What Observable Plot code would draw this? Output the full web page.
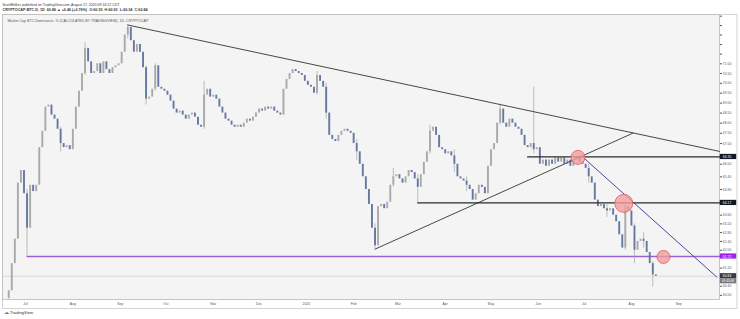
<!DOCTYPE html>
<html><head><meta charset="utf-8">
<script src="https://cdn.jsdelivr.net/npm/d3@7"></script>
<script src="https://cdn.jsdelivr.net/npm/@observablehq/plot@0.6"></script>
<style>html,body{margin:0;padding:0;background:#fff;} #chart svg{display:block;}</style>
</head><body><div id="chart"></div>
<script>
// ---- data ----
const xStart = new Date("2019-06-15T22:00:00Z");
const xEnd = new Date("2020-09-27T17:00:00Z");
const candleStart = "2019-06-20"; // 2-day candles
const firstOpen = 59.85;
const closes = [
60.2,61.4,62.5,65.1,65.7,64.6,63.0,65.0,64.7,65.0,
66.8,67.6,68.8,68.9,68.4,68.2,67.7,67.0,66.8,66.9,
66.7,67.7,68.8,69.6,70.5,71.8,71.1,70.5,70.6,71.0,
70.5,71.1,70.7,70.5,70.8,70.9,71.0,71.6,72.5,72.9,
72.2,71.6,72.0,71.6,70.8,69.2,69.3,69.7,70.9,69.8,
69.7,69.6,69.4,69.1,68.7,68.5,68.6,68.4,68.2,68.4,
68.5,68.3,67.9,67.8,69.4,69.7,69.3,69.4,69.2,68.8,
68.5,68.2,68.1,67.9,67.8,67.9,67.8,68.0,68.2,68.1,
68.3,68.5,68.7,68.6,68.8,68.7,68.8,68.6,68.5,68.4,
69.7,70.2,70.5,70.7,70.6,70.5,70.4,70.1,69.9,69.8,
69.5,70.4,70.1,69.8,68.5,67.4,67.2,67.1,67.4,67.6,
67.7,67.6,67.5,67.0,66.6,66.0,65.4,64.8,64.1,63.0,
62.2,64.0,64.1,63.9,64.2,65.0,65.4,65.5,65.3,65.1,
65.4,65.7,65.6,65.3,64.9,65.5,66.1,66.6,67.6,67.8,
67.4,66.8,66.7,66.5,66.6,66.4,66.0,65.4,65.3,65.2,
65.0,64.8,64.3,64.6,65.0,64.9,64.6,65.9,66.7,67.0,
68.0,68.7,68.0,67.8,68.2,68.0,67.8,67.7,67.4,66.9,
66.8,67.0,66.7,66.8,66.0,66.2,65.9,66.2,66.0,66.3,
66.1,66.3,66.0,66.2,65.9,66.2,66.35,66.1,66.0,65.8,
65.4,65.1,64.3,64.0,64.1,63.9,63.8,63.9,63.6,63.3,
62.7,62.1,64.0,63.8,63.1,62.0,62.4,62.5,62.4,61.9,
61.4,60.9,60.84
];
const wickIndex = [6, 25, 39, 48, 64, 101, 120, 134, 138, 161, 172, 202, 205, 211, 17, 45, 104, 114, 126, 146, 150, 190, 196, 208];
const wickLow   = [61.72, 70.4, 72.3, 69.6, 67.7, 69.4, 62.05, 64.17, 66.5, 67.9, 66.5, 62.0, 61.4, 60.36, 66.6, 68.9, 68.2, 66.2, 64.9, 65.6, 64.7, 65.1, 63.5, 62.1];
const wickHigh  = [64.8, 72.1, 73.05, 71.0, 70.1, 70.6, 63.2, 65.5, 67.9, 68.95, 69.8, 64.2, 63.2, 61.5, 67.8, 70.9, 70.0, 67.2, 65.8, 66.7, 65.4, 66.0, 64.1, 62.8];

const yTicks = [73.5,73,72.5,72,71.5,71,70.5,70,69.5,69,68.5,68,67.5,67,66,65.4,64.8,63.6,63.2,62.8,62.4,62,61.2,60.4,60];
const xTickDates = ["2019-07-01","2019-08-01","2019-09-01","2019-10-01","2019-11-01","2019-12-01","2020-01-01","2020-02-01","2020-03-01","2020-04-01","2020-05-01","2020-06-01","2020-07-01","2020-08-01","2020-09-01"].map(d => new Date(d));
const xTickLabels = ["Jul","Aug","Sep","Oct","Nov","Dec","2020","Feb","Mar","Apr","May","Jun","Jul","Aug","Sep"];

const resistanceLine = [["2019-09-06", 73.03], [xEnd, 66.62]];
const supportLine = [["2020-02-15", 62.05], ["2020-08-02", 67.51]];
const blueLine = [["2020-06-29", 66.42], ["2020-09-26", 60.80]];
const level1 = [["2020-05-25", 66.35], [xEnd, 66.35]];
const level2 = [["2020-03-14", 64.17], [xEnd, 64.17]];
const purpleLevel = [["2019-07-02", 61.72], [xEnd, 61.72]];
const lastPrice = 60.84;
const circleSmallA = [["2020-06-27", 66.33]];
const circleBig = [["2020-07-27", 64.15]];
const circleSmallB = [["2020-08-22", 61.70]];
const priceLabels = [
  {v: 66.35, text: "66.35", fill: "#131722"},
  {v: 64.17, text: "64.17", fill: "#131722"},
  {v: 61.72, text: "61.72", fill: "#a020f0"},
  {v: 60.84, text: "60.84", fill: "#3a3a3a"}
];
const countdown = "09:43:48";
const header1 = "ScottMelker published on TradingView.com, August 17, 2020 09:16:12 CDT";
const header2 = "CRYPTOCAP:BTC.D, 1D  60.86 ▲ +0.46 (+0.76%)  O:60.35  H:60.93  L:60.34  C:60.84";
const paneTitle = "Market Cap BTC Dominance, % (CALCULATED BY TRADINGVIEW), 1D, CRYPTOCAP";

// ---- build ----
const dates = closes.map((_, i) => d3.utcDay.offset(new Date(candleStart), 2 * i));
const candles = closes.map((c, i) => ({date: dates[i], open: i ? closes[i - 1] : firstOpen, close: c}));
const wicks = wickIndex.map((idx, k) => ({date: dates[idx], low: wickLow[k], high: wickHigh[k]}));
const toPts = arr => arr.map(([d, v]) => ({date: new Date(d), v}));
const upColor = "#a9a9a9", downColor = "#6478a0";

const chart = Plot.plot({
  width: 740, height: 319,
  marginTop: 14, marginBottom: 20, marginLeft: 2, marginRight: 21,
  style: {fontSize: "3.4px", fontFamily: "Liberation Sans, Arial, sans-serif", color: "#555", background: "#fff"},
  x: {type: "utc", domain: [xStart, xEnd], ticks: xTickDates, tickSize: 0, tickPadding: 3,
      tickFormat: d => xTickLabels[xTickDates.findIndex(t => +t === +d)], label: null},
  y: {type: "log", domain: [59.82, 73.59], axis: "right", ticks: yTicks, tickSize: 2, tickPadding: 1.3,
      tickFormat: d => d.toFixed(2), label: null},
  marks: [
    Plot.frame({fill: "none", stroke: "#c9c9c9", strokeWidth: 0.8, insetRight: -17.5, insetBottom: -9}),
    Plot.frame({fill: "#f4f4f4", stroke: "#b9b9b9", strokeWidth: 0.8}),
    Plot.ruleY([lastPrice], {stroke: "#c6c6c6", strokeWidth: 0.6}),
    Plot.line(toPts(purpleLevel), {x: "date", y: "v", stroke: "#9b62d6", strokeWidth: 1.3}),
    Plot.ruleX(wicks, {x: "date", y1: "low", y2: "high", stroke: "#a5a5a5", strokeWidth: 0.7}),
    Plot.ruleX(candles.filter(d => d.close >= d.open), {x: "date", y1: "open", y2: "close", stroke: upColor, strokeWidth: 1.9}),
    Plot.ruleX(candles.filter(d => d.close < d.open), {x: "date", y1: "open", y2: "close", stroke: downColor, strokeWidth: 1.9}),
    Plot.line(toPts(resistanceLine), {x: "date", y: "v", stroke: "#333", strokeWidth: 0.9}),
    Plot.line(toPts(supportLine), {x: "date", y: "v", stroke: "#333", strokeWidth: 0.9}),
    Plot.line(toPts(level1), {x: "date", y: "v", stroke: "#2a2a2a", strokeWidth: 1.3}),
    Plot.line(toPts(level2), {x: "date", y: "v", stroke: "#2a2a2a", strokeWidth: 1.3}),
    Plot.line(toPts(blueLine), {x: "date", y: "v", stroke: "#4848a0", strokeWidth: 1}),
    Plot.dot(toPts(circleSmallA), {x: "date", y: "v", r: 7, fill: "#f29c9c", fillOpacity: 0.8, stroke: "#e05a5a", strokeWidth: 0.8}),
    Plot.dot(toPts(circleBig), {x: "date", y: "v", r: 9, fill: "#f29c9c", fillOpacity: 0.8, stroke: "#e05a5a", strokeWidth: 0.8}),
    Plot.dot(toPts(circleSmallB), {x: "date", y: "v", r: 6.5, fill: "#f29c9c", fillOpacity: 0.8, stroke: "#e05a5a", strokeWidth: 0.8}),
    // price labels on axis
    Plot.rect(priceLabels, {x1: () => xEnd, x2: () => xEnd, y1: "v", y2: "v", fill: "fill",
      insetLeft: 0.8, insetRight: -17.2, insetTop: -2.6, insetBottom: -2.6}),
    Plot.text(priceLabels, {x: () => xEnd, y: "v", text: "text", dx: 3.3, textAnchor: "start", fill: "#fff", fontSize: 3.4}),
    Plot.rect([lastPrice], {x1: () => xEnd, x2: () => xEnd, y1: d => d, y2: d => d, fill: "#777",
      insetLeft: 0.8, insetRight: -17.2, insetTop: 2.6, insetBottom: -7.6}),
    Plot.text([lastPrice], {x: () => xEnd, y: d => d, text: () => countdown, dy: 5.1, dx: 2.2, textAnchor: "start", fill: "#fff", fontSize: 3.2}),
    // texts
    Plot.text([header1], {text: d => d, frameAnchor: "top-left", dx: 0, dy: -11, textAnchor: "start", fill: "#333", fontSize: 3.5}),
    Plot.text([header2], {text: d => d, frameAnchor: "top-left", dx: 0, dy: -6.5, textAnchor: "start", fill: "#333", fontSize: 3.7, fontWeight: "bold"}),
    Plot.text([paneTitle], {text: d => d, frameAnchor: "top-left", dx: 5, dy: 4.6, textAnchor: "start", fill: "#555", fontSize: 3.6}),
    Plot.text(["☁"], {text: d => d, frameAnchor: "bottom-left", dx: 1.5, dy: 14, textAnchor: "start", fill: "#2e86de", fontSize: 5, fontFamily: "DejaVu Sans"}),
    Plot.text(["TradingView"], {text: d => d, frameAnchor: "bottom-left", dx: 7.5, dy: 14, textAnchor: "start", fill: "#333", fontSize: 4.2})
  ]
});
document.getElementById("chart").appendChild(chart);
</script>
</body></html>
